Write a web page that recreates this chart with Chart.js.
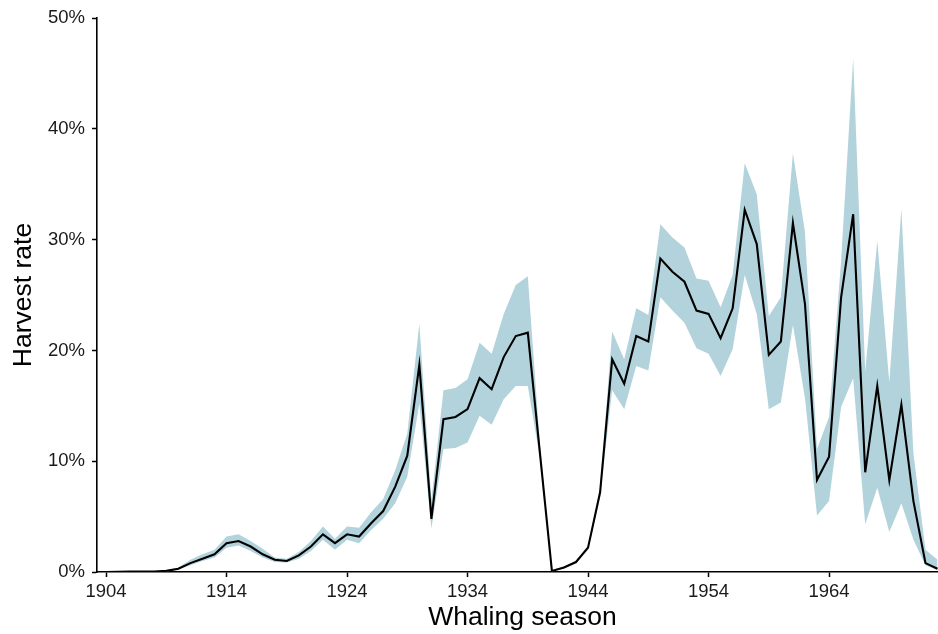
<!DOCTYPE html>
<html>
<head>
<meta charset="utf-8">
<script src="https://cdn.jsdelivr.net/npm/chart.js@4/dist/chart.umd.min.js"></script>
<style>
  html, body { margin: 0; padding: 0; background: #ffffff; overflow: hidden; }
  #wrap { width: 938px; height: 634px; overflow: hidden; }
</style>
</head>
<body>
<div id="wrap"><canvas id="c" width="948" height="634"></canvas></div>
<script>
// Whaling seasons (x values)
const seasons = [
  1904, 1905, 1906, 1907, 1908, 1909, 1910, 1911, 1912, 1913,
  1914, 1915, 1916, 1917, 1918, 1919, 1920, 1921, 1922, 1923,
  1924, 1925, 1926, 1927, 1928, 1929, 1930, 1931, 1932, 1933,
  1934, 1935, 1936, 1937, 1938, 1939, 1940, 1941, 1942, 1943,
  1944, 1945, 1946, 1947, 1948, 1949, 1950, 1951, 1952, 1953,
  1954, 1955, 1956, 1957, 1958, 1959, 1960, 1961, 1962, 1963,
  1964, 1965, 1966, 1967, 1968, 1969, 1970, 1971, 1972, 1973
];

// Estimated harvest rate (%)
const harvestRate = [
  0.0, 0.02, 0.03, 0.04, 0.05, 0.1, 0.3, 0.8, 1.2, 1.6,
  2.6, 2.8, 2.3, 1.6, 1.1, 1.0, 1.5, 2.3, 3.4, 2.6,
  3.4, 3.2, 4.4, 5.5, 7.7, 10.5, 18.7, 4.8, 13.8, 14.0,
  14.7, 17.5, 16.5, 19.4, 21.3, 21.6, 10.8, 0.1, 0.4, 0.9,
  2.2, 7.2, 19.2, 17.0, 21.3, 20.8, 28.3, 27.1, 26.2, 23.6,
  23.3, 21.1, 23.8, 32.7, 29.6, 19.6, 20.8, 31.5, 24.2, 8.3,
  10.4, 24.8, 32.3, 9.0, 16.8, 8.3, 15.1, 6.4, 0.8, 0.3
];

// Lower bound of the uncertainty band (%)
const lowerBound = [
  0.0, 0.0, 0.0, 0.0, 0.0, 0.05, 0.2, 0.6, 1.0, 1.3,
  2.2, 2.4, 1.9, 1.3, 0.9, 0.85, 1.2, 1.9, 2.9, 2.0,
  2.9, 2.6, 3.8, 4.8, 6.2, 8.6, 15.2, 3.9, 11.1, 11.2,
  11.7, 14.1, 13.3, 15.6, 16.8, 16.8, 10.3, 0.05, 0.3, 0.8,
  2.0, 6.8, 16.4, 14.7, 18.6, 18.2, 24.8, 23.6, 22.5, 20.2,
  19.7, 17.7, 20.1, 26.8, 23.3, 14.7, 15.3, 22.3, 15.7, 5.1,
  6.4, 14.9, 17.5, 4.3, 7.6, 3.6, 6.2, 2.9, 0.6, 0.15
];

// Upper bound of the uncertainty band (%)
const upperBound = [
  0.0, 0.04, 0.06, 0.08, 0.1, 0.15, 0.4, 1.1, 1.6, 2.0,
  3.2, 3.4, 2.8, 2.1, 1.3, 1.2, 1.8, 2.8, 4.1, 3.0,
  4.1, 4.0, 5.4, 6.6, 9.2, 12.5, 22.4, 6.5, 16.4, 16.6,
  17.4, 20.7, 19.7, 23.3, 25.9, 26.7, 11.6, 0.15, 0.5, 1.0,
  2.4, 7.6, 21.7, 19.2, 23.8, 23.2, 31.4, 30.2, 29.3, 26.5,
  26.3, 23.9, 26.8, 36.9, 34.1, 23.1, 24.8, 37.8, 30.7, 11.1,
  14.0, 28.1, 46.4, 18.1, 29.9, 17.1, 32.8, 10.7, 2.0, 1.1
];

// Axis tick values
const xTickYears = [1904, 1914, 1924, 1934, 1944, 1954, 1964];
const yTickPercents = [0, 10, 20, 30, 40, 50];

const toPoints = arr => seasons.map((s, i) => ({ x: s, y: arr[i] }));

const bandColor = 'rgb(178, 211, 220)';
const textColor = '#1a1a1a';
const fontFamily = '"Liberation Sans", Arial, Helvetica, sans-serif';

Chart.defaults.font.family = fontFamily;

new Chart(document.getElementById('c'), {
  type: 'line',
  data: {
    datasets: [
      {
        label: 'Harvest rate',
        data: toPoints(harvestRate),
        borderColor: '#000000',
        borderWidth: 2.1,
        pointRadius: 0,
        tension: 0,
        fill: false
      },
      {
        label: 'Upper',
        data: toPoints(upperBound),
        borderColor: 'rgba(0,0,0,0)',
        borderWidth: 0,
        pointRadius: 0,
        tension: 0,
        backgroundColor: bandColor,
        fill: '+1'
      },
      {
        label: 'Lower',
        data: toPoints(lowerBound),
        borderColor: 'rgba(0,0,0,0)',
        borderWidth: 0,
        pointRadius: 0,
        tension: 0,
        fill: false
      }
    ]
  },
  options: {
    responsive: false,
    animation: false,
    devicePixelRatio: 1,
    layout: { padding: { top: 17, right: 0, left: 0, bottom: 0 } },
    plugins: {
      legend: { display: false },
      tooltip: { enabled: false }
    },
    scales: {
      x: {
        type: 'linear',
        min: 1903.25,
        max: 1973.87,
        afterBuildTicks: scale => { scale.ticks = xTickYears.map(v => ({ value: v })); },
        afterFit: scale => { scale.height = 62; },
        ticks: {
          autoSkip: false,
          maxRotation: 0,
          padding: 4,
          color: textColor,
          font: { size: 18.5 },
          callback: v => String(v)
        },
        grid: {
          display: true,
          drawOnChartArea: false,
          drawTicks: true,
          tickLength: 5,
          tickWidth: 1.5,
          tickColor: '#000000'
        },
        border: { display: true, color: '#000000', width: 1.6 },
        title: {
          display: true,
          text: 'Whaling season',
          color: '#000000',
          font: { size: 26.5 },
          padding: { top: 0, bottom: 0 }
        }
      },
      y: {
        type: 'linear',
        min: 0,
        max: 50,
        afterBuildTicks: scale => { scale.ticks = yTickPercents.map(v => ({ value: v })); },
        afterFit: scale => { scale.width = 97; },
        ticks: {
          padding: 7,
          color: textColor,
          font: { size: 18.5 },
          callback: v => v + '%'
        },
        grid: {
          display: true,
          drawOnChartArea: false,
          drawTicks: true,
          tickLength: 5,
          tickWidth: 1.5,
          tickColor: '#000000'
        },
        border: { display: true, color: '#000000', width: 1.6 },
        title: {
          display: true,
          text: 'Harvest rate',
          color: '#000000',
          font: { size: 26.5 },
          padding: { top: 8, bottom: 0 }
        }
      }
    }
  }
});
</script>
</body>
</html>
